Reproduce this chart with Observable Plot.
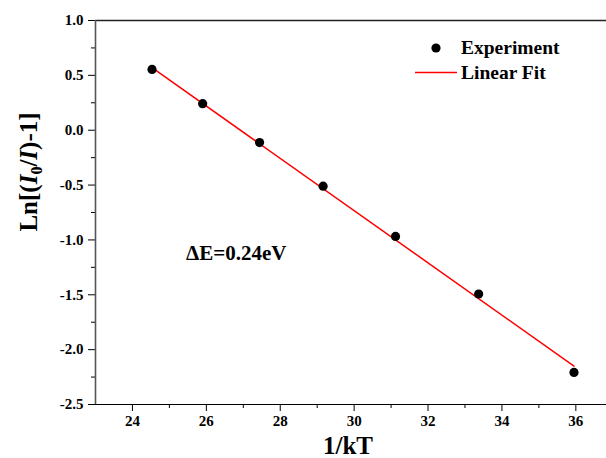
<!DOCTYPE html>
<html>
<head>
<meta charset="utf-8">
<script src="https://cdn.jsdelivr.net/npm/d3@7"></script>
<script src="https://cdn.jsdelivr.net/npm/@observablehq/plot@0.6"></script>
<style>
  html, body { margin: 0; padding: 0; background: #fff; }
  #chart svg { display: block; }
  #chart svg g[aria-label="x-axis tick label"],
  #chart svg g[aria-label="y-axis tick label"],
  #chart svg g[aria-label="x-axis tick label"] text,
  #chart svg g[aria-label="y-axis tick label"] text {
    font-family: "Liberation Serif", "Times New Roman", serif !important;
    font-weight: bold !important;
    font-size: 15px !important;
    fill: #000;
  }
</style>
</head>
<body>
<div id="chart"></div>
<script>
// Data
const invKT = [24.53, 25.90, 27.44, 29.16, 31.12, 33.37, 35.95];
const lnValues = [0.554, 0.242, -0.113, -0.510, -0.968, -1.493, -2.208];
const fitX = [24.53, 35.95];
const fitY = [0.57, -2.15];
const xMajorTicks = [24, 26, 28, 30, 32, 34, 36];
const xMinorTicks = [25, 27, 29, 31, 33, 35];
const yMajorTicks = [-2.5, -2.0, -1.5, -1.0, -0.5, 0.0, 0.5, 1.0];
const yMinorTicks = [-2.25, -1.75, -1.25, -0.75, -0.25, 0.25, 0.75];
const xDomain = [23, 36.83];
const yDomain = [-2.5, 1.0];
const legendLabels = ["Experiment", "Linear Fit"];
const annotation = "\u0394E=0.24eV";

const points = invKT.map((x, i) => ({x, y: lnValues[i]}));
const fit = fitX.map((x, i) => ({x, y: fitY[i]}));

const font = "Liberation Serif, Times New Roman, serif";
const fmt = d => d.toFixed(1);

const plot = Plot.plot({
  width: 606,
  height: 458,
  marginLeft: 95,
  marginRight: 0,
  marginTop: 20,
  marginBottom: 54,
  style: {fontFamily: font, fontWeight: "bold", fontSize: "15px", color: "#000", background: "#fff", overflow: "visible"},
  x: {domain: xDomain},
  y: {domain: yDomain},
  marks: [
    Plot.axisX({ticks: xMinorTicks, tickSize: 4, tickFormat: () => "", label: null, stroke: "#000"}),
    Plot.axisX({ticks: xMajorTicks, tickSize: 7, tickPadding: 4, tickFormat: d => String(d), label: null, stroke: "#000", fontSize: 15, fontWeight: "bold", fontFamily: font}),
    Plot.axisY({ticks: yMinorTicks, tickSize: 4, tickFormat: () => "", label: null, stroke: "#000"}),
    Plot.axisY({ticks: yMajorTicks, tickSize: 7, tickPadding: 5, tickFormat: fmt, label: null, stroke: "#000", fontSize: 15, fontWeight: "bold", fontFamily: font}),
    Plot.ruleY([yDomain[1]], {stroke: "#222", strokeWidth: 1.4}),
    Plot.ruleY([yDomain[0]], {stroke: "#000", strokeWidth: 1.2}),
    Plot.ruleX([xDomain[0]], {stroke: "#555", strokeWidth: 1.6}),
    Plot.line(fit, {x: "x", y: "y", stroke: "#ff0000", strokeWidth: 1.5}),
    Plot.dot(points, {x: "x", y: "y", r: 4.6, fill: "#000", stroke: "none"})
  ]
});

const svg = d3.select(plot);

// Y axis title with italic I and subscript 0
const yt = svg.append("text")
  .attr("transform", "translate(37,172) rotate(-90)")
  .attr("text-anchor", "middle")
  .attr("font-family", font)
  .attr("font-weight", "bold")
  .attr("font-size", 25)
  .attr("fill", "#000");
yt.append("tspan").text("Ln[(");
yt.append("tspan").attr("font-style", "italic").text("I");
yt.append("tspan").attr("font-size", 16).attr("dy", 5).text("0");
yt.append("tspan").attr("dy", -5).text("/");
yt.append("tspan").attr("font-style", "italic").text("I");
yt.append("tspan").text(")-1]");

// X axis title
svg.append("text")
  .attr("x", 348).attr("y", 454)
  .attr("text-anchor", "middle")
  .attr("font-family", font)
  .attr("font-weight", "bold")
  .attr("font-size", 25)
  .attr("fill", "#000")
  .text("1/kT");

// Legend
const lg = svg.append("g")
  .attr("font-family", font)
  .attr("font-weight", "bold")
  .attr("font-size", 19.5)
  .attr("text-anchor", "start")
  .attr("fill", "#000");
lg.append("circle").attr("cx", 436).attr("cy", 48).attr("r", 4.6).attr("fill", "#000");
lg.append("text").attr("x", 461).attr("y", 54).attr("text-anchor", "start").text(legendLabels[0]);
lg.append("line").attr("x1", 415).attr("x2", 457).attr("y1", 72.5).attr("y2", 72.5)
  .attr("stroke", "#ff0000").attr("stroke-width", 1.5);
lg.append("text").attr("x", 461).attr("y", 79).attr("text-anchor", "start").text(legendLabels[1]);

// Annotation
svg.append("text")
  .attr("x", 186).attr("y", 259.5)
  .attr("text-anchor", "start")
  .attr("font-family", font)
  .attr("font-weight", "bold")
  .attr("font-size", 21)
  .attr("fill", "#000")
  .text(annotation);

document.getElementById("chart").appendChild(plot);
</script>
</body>
</html>
